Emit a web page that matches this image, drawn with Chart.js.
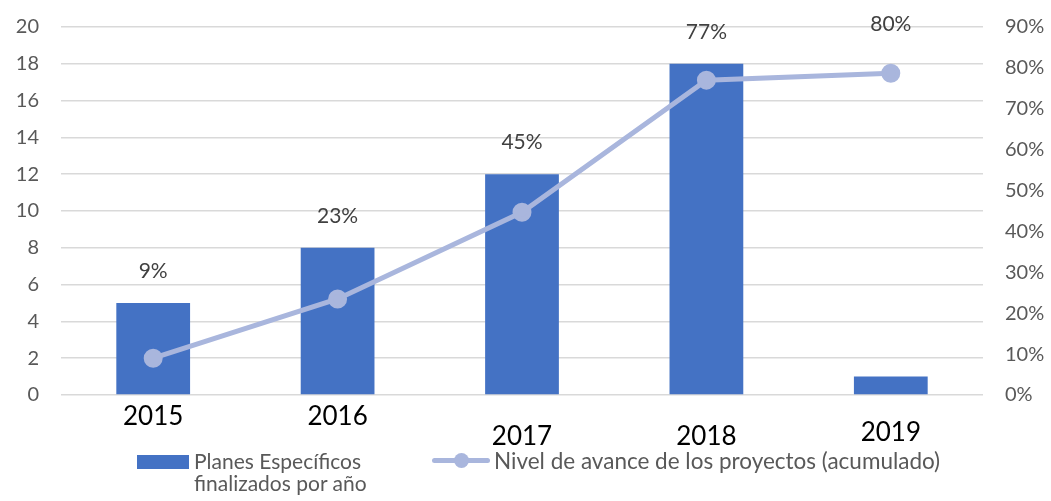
<!DOCTYPE html>
<html lang="es">
<head>
  <meta charset="UTF-8" />
  <title>Planes Específicos</title>
  <script src="https://cdn.jsdelivr.net/npm/chart.js@4.4.0/dist/chart.umd.min.js"></script>
  <style>
    body { margin: 0; background: #fff; font-family: Lato, sans-serif; }
    .wrap { position: relative; width: 1051px; height: 501px; }
    .legend { position: absolute; top: 450px; color: #595959; font-size: 21px; line-height: 22px; }
    .swatch-bar { position: absolute; left: 137px; top: 455px; width: 52px; height: 14px; background: #4472C4; }
    .swatch-line { position: absolute; left: 432px; top: 458px; width: 58px; height: 5px; background: #A9B6DD; border-radius: 3px; }
    .swatch-line::after { content: ""; position: absolute; left: 22px; top: -5px; width: 15px; height: 15px; border-radius: 50%; background: #A9B6DD; }
  </style>
</head>
<body>
<div class="wrap">
  <canvas id="chart" width="1051" height="501"></canvas>
  <div class="swatch-bar"></div>
  <div class="legend" style="left:194px">Planes Específicos<br>finalizados por año</div>
  <div class="swatch-line"></div>
  <div class="legend" style="left:494px; font-size:22.5px">Nivel de avance de los proyectos (acumulado)</div>
</div>
<script>
  const years = ['2015', '2016', '2017', '2018', '2019'];
  const planesFinalizados = [5, 8, 12, 18, 1];
  const nivelAvance = [0.09, 0.235, 0.447, 0.77, 0.787];
  const avanceLabels = ['9%', '23%', '45%', '77%', '80%'];

  // how far each year label sits below the axis, and extra lift for the % labels
  const yearDrop = [22, 22, 42, 42, 38];
  const labelLift = [0, 0, 0, 0, 17];

  const overlay = {
    id: 'overlay',
    afterDatasetsDraw(chart) {
      const ctx = chart.ctx;
      const x = chart.scales.x;
      const bottom = chart.chartArea.bottom;
      const barMeta = chart.getDatasetMeta(1).data;
      const lineMeta = chart.getDatasetMeta(0).data;
      ctx.save();
      ctx.textAlign = 'center';
      ctx.textBaseline = 'middle';
      ctx.font = '21px Lato';
      ctx.fillStyle = '#404040';
      avanceLabels.forEach((t, i) => {
        const top = Math.min(barMeta[i].y, lineMeta[i].y);
        ctx.fillText(t, x.getPixelForValue(i), top - 32 - labelLift[i]);
      });
      ctx.font = '26px Lato';
      ctx.fillStyle = '#000';
      years.forEach((y, i) => {
        ctx.fillText(y, x.getPixelForValue(i), bottom + yearDrop[i]);
      });
      ctx.restore();
    }
  };

  function fixAxis(width) {
    return s => { s.width = width; s.paddingTop = 0; s.paddingBottom = 0; };
  }

  new Chart(document.getElementById('chart'), {
    data: {
      labels: years,
      datasets: [
        {
          type: 'line',
          label: 'Nivel de avance de los proyectos (acumulado)',
          data: nivelAvance,
          yAxisID: 'y1',
          borderColor: '#A9B6DD',
          backgroundColor: '#A9B6DD',
          borderWidth: 5,
          pointRadius: 7,
          pointHoverRadius: 7,
          order: 0
        },
        {
          type: 'bar',
          label: 'Planes Específicos finalizados por año',
          data: planesFinalizados,
          yAxisID: 'y',
          backgroundColor: '#4472C4',
          barPercentage: 0.4,
          categoryPercentage: 1,
          order: 1
        }
      ]
    },
    options: {
      responsive: false,
      animation: false,
      layout: { padding: { top: 27, bottom: 106 } },
      plugins: { legend: { display: false }, tooltip: { enabled: false } },
      scales: {
        x: { display: false },
        y: {
          position: 'left',
          min: 0, max: 20,
          ticks: { stepSize: 2, padding: 22, color: '#595959', font: { family: 'Lato', size: 20 } },
          grid: { color: '#D9D9D9', lineWidth: 1.5, drawTicks: false },
          border: { display: false },
          afterFit: fixAxis(61)
        },
        y1: {
          position: 'right',
          min: 0, max: 0.9,
          ticks: { stepSize: 0.1, padding: 22, color: '#595959', font: { family: 'Lato', size: 20 },
                   callback: v => Math.round(v * 100) + '%' },
          grid: { display: false, drawTicks: false },
          border: { display: false },
          afterFit: fixAxis(68)
        }
      }
    },
    plugins: [overlay]
  });
</script>
</body>
</html>
